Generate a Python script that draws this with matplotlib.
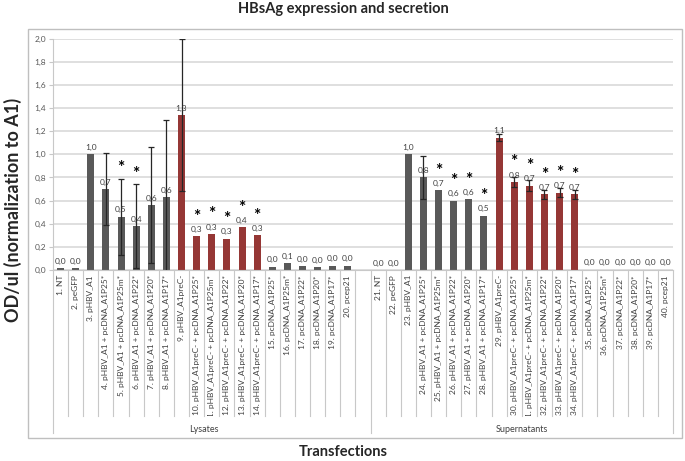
import matplotlib.pyplot as plt
import matplotlib.transforms as mtransforms
from matplotlib.patches import Rectangle
import numpy as np

plt.rcParams['font.family'] = ['Lato', 'DejaVu Sans']

# ---- data ----
lys_labels = ['1. NT', '2. peGFP', '3. pHBV_A1',
              '4. pHBV_A1 + pcDNA_A1P25*', '5. pHBV_A1 + pcDNA_A1P25m*',
              '6. pHBV_A1 + pcDNA_A1P22*', '7. pHBV_A1 + pcDNA_A1P20*',
              '8. pHBV_A1 + pcDNA_A1P17*', '9. pHBV_A1preC-',
              '10. pHBV_A1preC- + pcDNA_A1P25*', '11. pHBV_A1preC- + pcDNA_A1P25m*',
              '12. pHBV_A1preC- + pcDNA_A1P22*', '13. pHBV_A1preC- + pcDNA_A1P20*',
              '14. pHBV_A1preC- + pcDNA_A1P17*', '15. pcDNA_A1P25*',
              '16. pcDNA_A1P25m*', '17. pcDNA_A1P22*', '18. pcDNA_A1P20*',
              '19. pcDNA_A1P17*', '20. pcep21']
sup_labels = ['21. NT', '22. peGFP', '23. pHBV_A1',
              '24. pHBV_A1 + pcDNA_A1P25*', '25. pHBV_A1 + pcDNA_A1P25m*',
              '26. pHBV_A1 + pcDNA_A1P22*', '27. pHBV_A1 + pcDNA_A1P20*',
              '28. pHBV_A1 + pcDNA_A1P17*', '29. pHBV_A1preC-',
              '30. pHBV_A1preC- + pcDNA_A1P25*', '31. pHBV_A1preC- + pcDNA_A1P25m*',
              '32. pHBV_A1preC- + pcDNA_A1P22*', '33. pHBV_A1preC- + pcDNA_A1P20*',
              '34. pHBV_A1preC- + pcDNA_A1P17*', '35. pcDNA_A1P25*',
              '36. pcDNA_A1P25m*', '37. pcDNA_A1P22*', '38. pcDNA_A1P20*',
              '39. pcDNA_A1P17*', '40. pcep21']

lys_vals = [0.017, 0.017, 1.0, 0.70, 0.46, 0.38, 0.56, 0.63, 1.34,
            0.29, 0.31, 0.27, 0.37, 0.30, 0.029, 0.057, 0.034, 0.023, 0.037, 0.037]
lys_err = [0, 0, 0, 0.31, 0.33, 0.36, 0.50, 0.67, 0.66,
           0, 0, 0, 0, 0, 0, 0, 0, 0, 0, 0]
lys_star = [0, 0, 0, 0, 1, 1, 0, 0, 0, 1, 1, 1, 1, 1, 0, 0, 0, 0, 0, 0]

sup_vals = [0.0, 0.0, 1.0, 0.80, 0.69, 0.60, 0.61, 0.47, 1.145,
            0.76, 0.73, 0.655, 0.67, 0.655, 0.003, 0.003, 0.003, 0.003, 0.003, 0.003]
sup_err = [0, 0, 0, 0.19, 0, 0, 0, 0, 0.03,
           0.04, 0.05, 0.04, 0.04, 0.04, 0, 0, 0, 0, 0, 0]
sup_star = [0, 0, 0, 0, 1, 1, 1, 1, 0, 1, 1, 1, 1, 1, 0, 0, 0, 0, 0, 0]

# red = pHBV_A1preC- series (9-14 / 29-34)
red_flag = [0] * 8 + [1] * 6 + [0] * 6

groups = ['Lysates', 'Supernatants']

GRAY = '#595959'
RED = '#953735'
LINE = '#c8c8c8'

W, H = 685, 461
fig = plt.figure(figsize=(W / 100, H / 100), dpi=100)
x0, x1, y0, y1 = 53, 673, 38.7, 270
ax = fig.add_axes([x0 / W, 1 - y1 / H, (x1 - x0) / W, (y1 - y0) / H])

labels = lys_labels + [''] + sup_labels
vals = lys_vals + [np.nan] + sup_vals
errs = lys_err + [0] + sup_err
stars = lys_star + [0] + sup_star
reds = red_flag + [0] + red_flag
pos = np.arange(len(labels))
colors = [RED if r else GRAY for r in reds]

ax.set_axisbelow(True)
ax.bar(pos, np.nan_to_num(vals), width=0.46, color=colors, zorder=2)
for p, v, e in zip(pos, vals, errs):
    if e > 0:
        ax.errorbar(p, v, yerr=e, fmt='none', ecolor='#262626', elinewidth=0.9,
                    capsize=2.5, capthick=0.9, zorder=3)

for p, v, e, s in zip(pos, vals, errs, stars):
    if np.isnan(v):
        continue
    ax.annotate(f'{v:.1f}'.replace('.', ','), (p, v), xytext=(0, 2.5),
                textcoords='offset points', ha='center', va='bottom',
                fontsize=6, color='#404040', zorder=4)
    if s:
        sy = max(v + 0.17, v + e + 0.09)
        ax.text(p, sy, '*', ha='center', va='center', fontsize=12.5,
                fontweight='bold', color='black', zorder=4)

ax.set_xlim(-0.5, len(labels) - 0.5)
ax.set_ylim(0, 2.0)
ax.set_yticks(np.arange(0, 2.01, 0.2))
ax.set_yticklabels([f'{t:.1f}'.replace('.', ',') for t in np.arange(0, 2.01, 0.2)])
ax.tick_params(axis='y', length=3, color=LINE, labelsize=6, labelcolor='#595959', pad=2)
ax.set_xticks([])
ax.grid(axis='y', color='#d9d9d9', linewidth=1.2)
for side in ['top', 'right']:
    ax.spines[side].set_visible(False)
ax.spines['left'].set_color(LINE)
ax.spines['bottom'].set_color(LINE)

# category labels, clipped to the label band
trans = mtransforms.blended_transform_factory(ax.transData, ax.transAxes)
ah = y1 - y0
band = mtransforms.TransformedBbox(
    mtransforms.Bbox([[x0 / W, 1 - 416 / H], [x1 / W, 1 - y1 / H]]), fig.transFigure)
for p, lab in zip(pos, labels):
    t = ax.text(p, -5 / ah, lab, transform=trans, rotation=90, ha='center', va='top',
                fontsize=6.0, color='#404040', clip_on=True)
    t.set_clip_box(band)

for k in range(len(labels) + 1):
    bottom = -(433 - y1) / ah if k in (0, 21, 41) else -(416 - y1) / ah
    ax.plot([k - 0.5, k - 0.5], [0, bottom], transform=trans, color=LINE,
            linewidth=0.8, clip_on=False)

ax.text(9.5, -(429 - y1) / ah, groups[0], transform=trans, ha='center', va='center',
        fontsize=6.5, color='#404040')
ax.text(30.5, -(429 - y1) / ah, groups[1], transform=trans, ha='center', va='center',
        fontsize=6.5, color='#404040')

# outer chart border
fig.add_artist(Rectangle((28 / W, 1 - 438 / H), (682 - 28) / W, (438 - 29) / H,
                         transform=fig.transFigure, fill=False, ec='#bfbfbf', lw=1))

fig.text(343 / W, 1 - 9 / H, 'HBsAg expression and secretion', ha='center', va='center',
         fontsize=10.5, fontweight='bold', color='#262626')
fig.text(343 / W, 1 - 452 / H, 'Transfections', ha='center', va='center',
         fontsize=10.5, fontweight='bold', color='#262626')
fig.text(13 / W, 1 - 210 / H, 'OD/ul (normalization to A1)', ha='center', va='center',
         rotation=90, fontsize=13, fontweight='bold', color='#262626')

fig.savefig('out.png', dpi=100)
